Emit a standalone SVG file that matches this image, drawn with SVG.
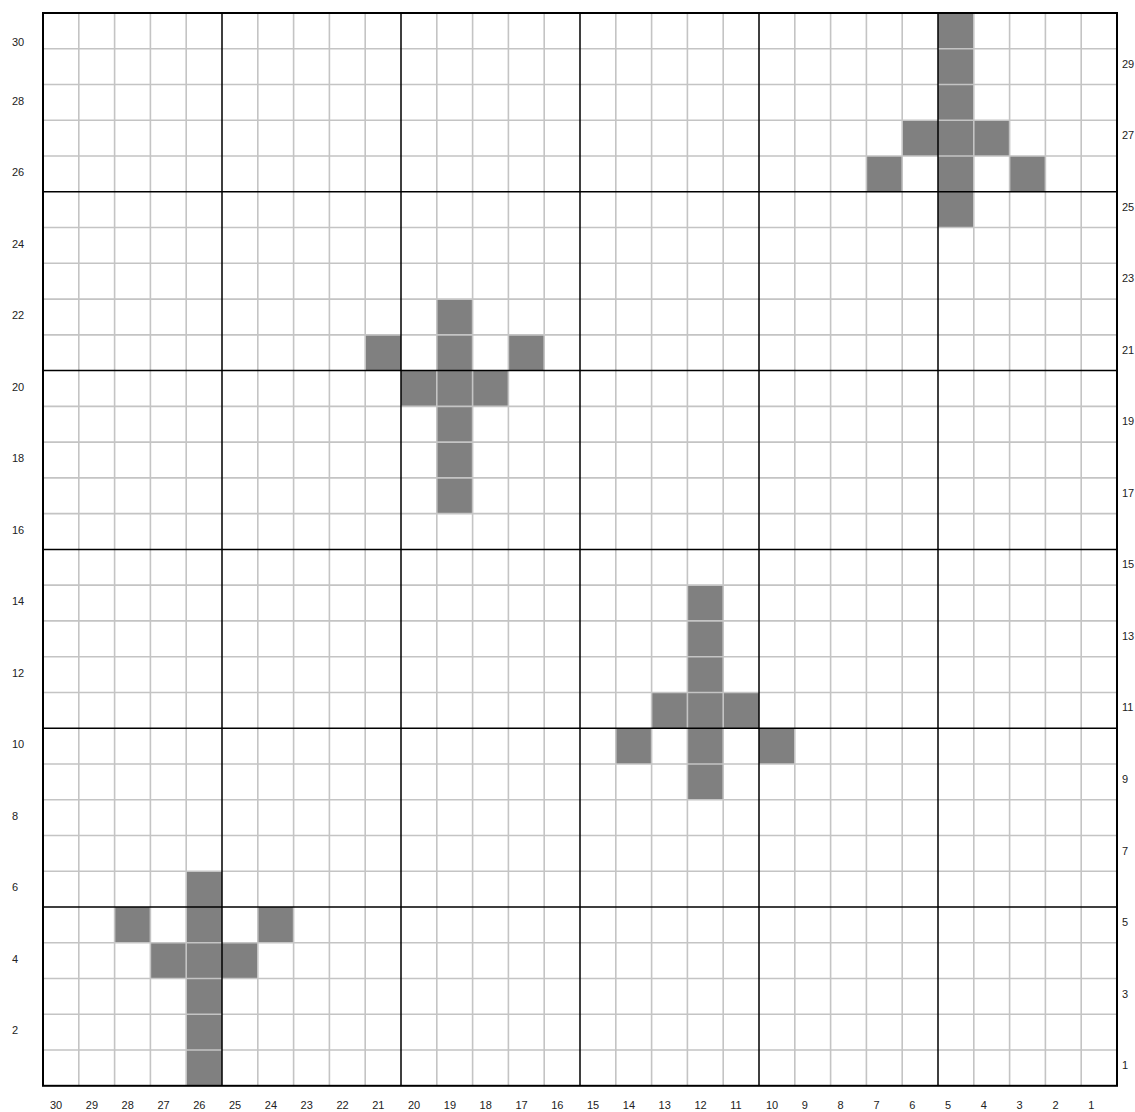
<svg xmlns="http://www.w3.org/2000/svg" width="1135" height="1112" viewBox="0 0 1135 1112">
<style>
.cell{fill:#808080}
.minor{stroke:#c4c4c4;stroke-width:1.6;fill:none}
.major{stroke:#000;stroke-width:1.5;fill:none}
.border{stroke:#000;stroke-width:2;fill:none}
text{font-family:"Liberation Sans",Arial,sans-serif;font-size:11px;fill:#222}
</style>
<rect x="0" y="0" width="1135" height="1112" fill="#fff"/>
<g id="figure-top-right">
<rect class="cell" x="938" y="13" width="35.8" height="214.56"/>
<rect class="cell" x="902.2" y="120.28" width="35.8" height="35.76"/>
<rect class="cell" x="973.8" y="120.28" width="35.8" height="35.76"/>
<rect class="cell" x="866.4" y="156.04" width="35.8" height="35.76"/>
<rect class="cell" x="1009.6" y="156.04" width="35.8" height="35.76"/>
</g>
<g id="figure-upper-middle">
<rect class="cell" x="436.8" y="299.08" width="35.8" height="214.56"/>
<rect class="cell" x="365.2" y="334.84" width="35.8" height="35.76"/>
<rect class="cell" x="508.4" y="334.84" width="35.8" height="35.76"/>
<rect class="cell" x="401" y="370.6" width="35.8" height="35.76"/>
<rect class="cell" x="472.6" y="370.6" width="35.8" height="35.76"/>
</g>
<g id="figure-lower-middle">
<rect class="cell" x="687.4" y="585.16" width="35.8" height="214.56"/>
<rect class="cell" x="651.6" y="692.44" width="35.8" height="35.76"/>
<rect class="cell" x="723.2" y="692.44" width="35.8" height="35.76"/>
<rect class="cell" x="615.8" y="728.2" width="35.8" height="35.76"/>
<rect class="cell" x="759" y="728.2" width="35.8" height="35.76"/>
</g>
<g id="figure-bottom-left">
<rect class="cell" x="186.2" y="871.24" width="35.8" height="214.56"/>
<rect class="cell" x="114.6" y="907" width="35.8" height="35.76"/>
<rect class="cell" x="257.8" y="907" width="35.8" height="35.76"/>
<rect class="cell" x="150.4" y="942.76" width="35.8" height="35.76"/>
<rect class="cell" x="222" y="942.76" width="35.8" height="35.76"/>
</g>
<g id="grid">
<path class="minor" d="M78.8 13V1085.8M114.6 13V1085.8M150.4 13V1085.8M186.2 13V1085.8M257.8 13V1085.8M293.6 13V1085.8M329.4 13V1085.8M365.2 13V1085.8M436.8 13V1085.8M472.6 13V1085.8M508.4 13V1085.8M544.2 13V1085.8M615.8 13V1085.8M651.6 13V1085.8M687.4 13V1085.8M723.2 13V1085.8M794.8 13V1085.8M830.6 13V1085.8M866.4 13V1085.8M902.2 13V1085.8M973.8 13V1085.8M1009.6 13V1085.8M1045.4 13V1085.8M1081.2 13V1085.8
M43 48.76H1117M43 84.52H1117M43 120.28H1117M43 156.04H1117M43 227.56H1117M43 263.32H1117M43 299.08H1117M43 334.84H1117M43 406.36H1117M43 442.12H1117M43 477.88H1117M43 513.64H1117M43 585.16H1117M43 620.92H1117M43 656.68H1117M43 692.44H1117M43 763.96H1117M43 799.72H1117M43 835.48H1117M43 871.24H1117M43 942.76H1117M43 978.52H1117M43 1014.28H1117M43 1050.04H1117"/>
<path class="major" d="M222 13V1085.8M401 13V1085.8M580 13V1085.8M759 13V1085.8M938 13V1085.8M43 191.8H1117M43 370.6H1117M43 549.4H1117M43 728.2H1117M43 907H1117"/>
<rect class="border" x="43" y="13" width="1074" height="1072.8"/>
</g>
<g id="left-labels">
<text x="12" y="46">30</text>
<text x="12" y="104.5">28</text>
<text x="12" y="176">26</text>
<text x="12" y="247.5">24</text>
<text x="12" y="319">22</text>
<text x="12" y="390.6">20</text>
<text x="12" y="462">18</text>
<text x="12" y="533.6">16</text>
<text x="12" y="605.2">14</text>
<text x="12" y="676.7">12</text>
<text x="12" y="748.2">10</text>
<text x="12" y="819.7">8</text>
<text x="12" y="891.2">6</text>
<text x="12" y="962.8">4</text>
<text x="12" y="1034.3">2</text>
</g>
<g id="right-labels">
<text x="1122" y="67.8">29</text>
<text x="1122" y="139.3">27</text>
<text x="1122" y="210.8">25</text>
<text x="1122" y="282.3">23</text>
<text x="1122" y="353.8">21</text>
<text x="1122" y="425.4">19</text>
<text x="1122" y="496.9">17</text>
<text x="1122" y="568.4">15</text>
<text x="1122" y="639.9">13</text>
<text x="1122" y="711.4">11</text>
<text x="1122" y="783">9</text>
<text x="1122" y="854.5">7</text>
<text x="1122" y="926">5</text>
<text x="1122" y="997.5">3</text>
<text x="1122" y="1069">1</text>
</g>
<g id="bottom-labels">
<text x="50" y="1109">30</text>
<text x="85.8" y="1109">29</text>
<text x="121.6" y="1109">28</text>
<text x="157.4" y="1109">27</text>
<text x="193.2" y="1109">26</text>
<text x="229" y="1109">25</text>
<text x="264.8" y="1109">24</text>
<text x="300.6" y="1109">23</text>
<text x="336.4" y="1109">22</text>
<text x="372.2" y="1109">21</text>
<text x="408" y="1109">20</text>
<text x="443.8" y="1109">19</text>
<text x="479.6" y="1109">18</text>
<text x="515.4" y="1109">17</text>
<text x="551.2" y="1109">16</text>
<text x="587" y="1109">15</text>
<text x="622.8" y="1109">14</text>
<text x="658.6" y="1109">13</text>
<text x="694.4" y="1109">12</text>
<text x="730.2" y="1109">11</text>
<text x="766" y="1109">10</text>
<text x="801.8" y="1109">9</text>
<text x="837.6" y="1109">8</text>
<text x="873.4" y="1109">7</text>
<text x="909.2" y="1109">6</text>
<text x="945" y="1109">5</text>
<text x="980.8" y="1109">4</text>
<text x="1016.6" y="1109">3</text>
<text x="1052.4" y="1109">2</text>
<text x="1088.2" y="1109">1</text>
</g>
</svg>
